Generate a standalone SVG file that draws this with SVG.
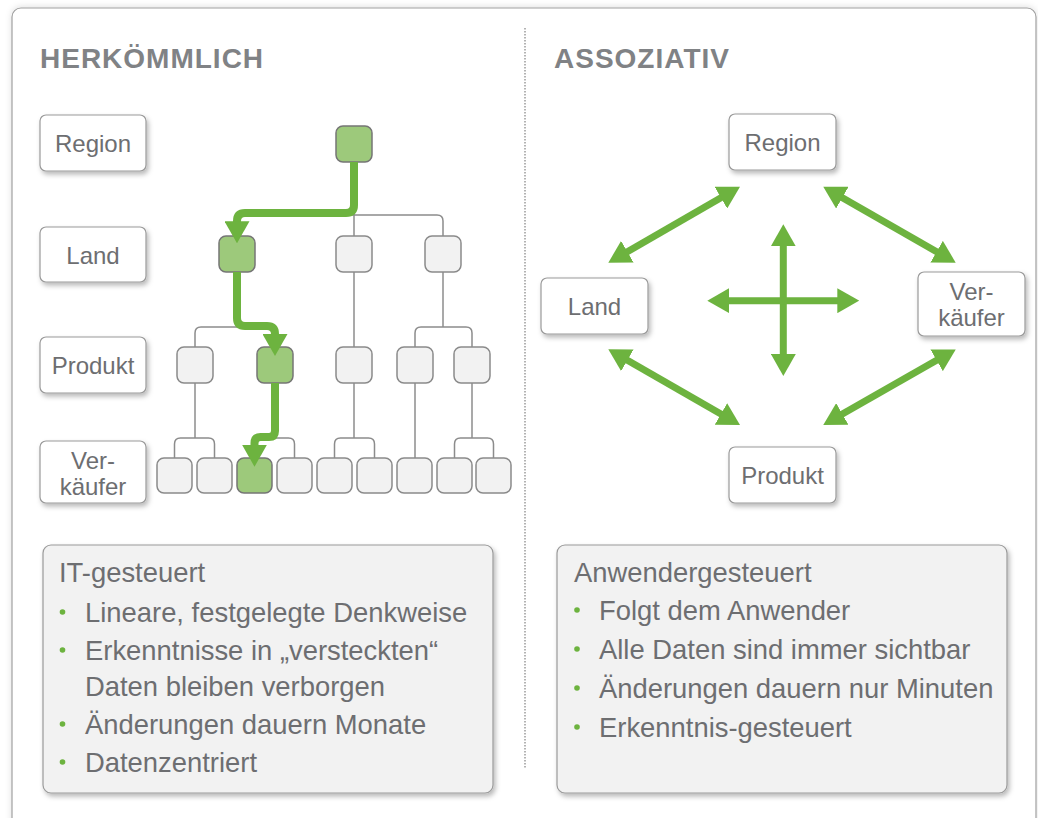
<svg xmlns="http://www.w3.org/2000/svg" width="1038" height="818" viewBox="0 0 1038 818">
<style>
.ttl{font-family:"Liberation Sans",Arial,sans-serif;font-weight:bold;font-size:28px;letter-spacing:1px;fill:#808285}
.lbl{font-family:"Liberation Sans",Arial,sans-serif;font-size:24px;fill:#6d6e71;text-anchor:middle}
.txt{font-family:"Liberation Sans",Arial,sans-serif;font-size:27.4px;fill:#6d6e71}
.box{fill:#ffffff;stroke:#9a9a9a;stroke-width:1.2}
.tn{fill:#f2f2f2;stroke:#8a8a8a;stroke-width:1.5}
.gn{fill:#9dc97b;stroke:#757575;stroke-width:1.5}
.tl{fill:none;stroke:#8c8c8c;stroke-width:1.5}
.gp{fill:none;stroke:#6db33f;stroke-width:8;stroke-linejoin:round}
.ga{fill:none;stroke:#6db33f;stroke-width:7}
.bul{fill:#6db33f}
.panel{fill:#f2f2f2;stroke:#9a9a9a;stroke-width:1.2}
</style>
<defs>
<filter id="sh" x="-20%" y="-20%" width="150%" height="160%">
<feDropShadow dx="2" dy="3" stdDeviation="2.5" flood-color="#000" flood-opacity="0.28"/>
</filter>
<filter id="fsh" x="-5%" y="-5%" width="110%" height="110%">
<feDropShadow dx="0" dy="-1" stdDeviation="3" flood-color="#000" flood-opacity="0.12"/>
</filter>
<marker id="ah" viewBox="0 0 22 25" refX="1" refY="12.5" markerWidth="22" markerHeight="25" markerUnits="userSpaceOnUse" orient="auto-start-reverse">
<path d="M0,0 L22,12.5 L0,25 z" fill="#6db33f"/>
</marker>
</defs>
<rect width="1038" height="818" fill="#ffffff"/>
<rect id="frame" x="12" y="8" width="1024" height="840" rx="9" fill="#ffffff" stroke="#a0a0a0" stroke-width="1.2" filter="url(#fsh)"/>
<line id="divider" x1="525" y1="28" x2="525" y2="769" stroke="#9a9a9a" stroke-width="1.5" stroke-dasharray="1.5,1.5"/>

<text class="ttl" x="40" y="68">HERKÖMMLICH</text>
<text class="ttl" x="554" y="68">ASSOZIATIV</text>

<!-- left level labels -->
<g id="lbl-region"><rect class="box" x="40" y="115" width="106" height="56" rx="6" filter="url(#sh)"/><text class="lbl" x="93" y="152">Region</text></g>
<g id="lbl-land"><rect class="box" x="40" y="227" width="106" height="55" rx="6" filter="url(#sh)"/><text class="lbl" x="93" y="264">Land</text></g>
<g id="lbl-produkt"><rect class="box" x="40" y="337" width="106" height="56" rx="6" filter="url(#sh)"/><text class="lbl" x="93" y="374">Produkt</text></g>
<g id="lbl-verkaeufer"><rect class="box" x="40" y="441" width="106" height="62" rx="6" filter="url(#sh)"/><text class="lbl" x="93" y="469">Ver-</text><text class="lbl" x="93" y="495">käufer</text></g>

<!-- tree connectors -->
<g id="tree-connectors">
<path class="tl" d="M354,162 V236"/>
<path class="tl" d="M237,236 V221 Q237,215 243,215 H437 Q443,215 443,221 V236"/>
<path class="tl" d="M237,272 V327"/>
<path class="tl" d="M195,347 V333 Q195,327 201,327 H269 Q275,327 275,333 V347"/>
<path class="tl" d="M354,272 V347"/>
<path class="tl" d="M443,272 V327"/>
<path class="tl" d="M415,347 V333 Q415,327 421,327 H466 Q472,327 472,333 V347"/>
<path class="tl" d="M195,383 V438"/>
<path class="tl" d="M174.5,458 V444 Q174.5,438 180.5,438 H208.5 Q214.5,438 214.5,444 V458"/>
<path class="tl" d="M275,383 V438"/>
<path class="tl" d="M254.5,458 V444 Q254.5,438 260.5,438 H288.5 Q294.5,438 294.5,444 V458"/>
<path class="tl" d="M354,383 V438"/>
<path class="tl" d="M334.5,458 V444 Q334.5,438 340.5,438 H368.5 Q374.5,438 374.5,444 V458"/>
<path class="tl" d="M415,383 V458"/>
<path class="tl" d="M472,383 V438"/>
<path class="tl" d="M454.5,458 V444 Q454.5,438 460.5,438 H487.5 Q493.5,438 493.5,444 V458"/>
</g>

<!-- tree nodes -->
<g id="tree-nodes">
<rect id="t-top" class="gn" x="336" y="126" width="36" height="36" rx="7"/>
<rect id="t-l1" class="gn" x="219" y="236" width="36" height="36" rx="7"/>
<rect id="t-l2" class="tn" x="336" y="236" width="36" height="36" rx="7"/>
<rect id="t-l3" class="tn" x="425" y="236" width="36" height="36" rx="7"/>
<rect id="t-p1" class="tn" x="177" y="347" width="36" height="36" rx="7"/>
<rect id="t-p2" class="gn" x="257" y="347" width="36" height="36" rx="7"/>
<rect id="t-p3" class="tn" x="336" y="347" width="36" height="36" rx="7"/>
<rect id="t-p4" class="tn" x="397" y="347" width="36" height="36" rx="7"/>
<rect id="t-p5" class="tn" x="454" y="347" width="36" height="36" rx="7"/>
<rect id="t-v1" class="tn" x="157" y="458" width="35" height="35" rx="7"/>
<rect id="t-v2" class="tn" x="197" y="458" width="35" height="35" rx="7"/>
<rect id="t-v3" class="gn" x="237" y="458" width="35" height="35" rx="7"/>
<rect id="t-v4" class="tn" x="277" y="458" width="35" height="35" rx="7"/>
<rect id="t-v5" class="tn" x="317" y="458" width="35" height="35" rx="7"/>
<rect id="t-v6" class="tn" x="357" y="458" width="35" height="35" rx="7"/>
<rect id="t-v7" class="tn" x="397" y="458" width="35" height="35" rx="7"/>
<rect id="t-v8" class="tn" x="437" y="458" width="35" height="35" rx="7"/>
<rect id="t-v9" class="tn" x="476" y="458" width="35" height="35" rx="7"/>
</g>

<!-- green drill path -->
<g id="drill-path">
<path class="gp" d="M354,162 V205 Q354,213 346,213 H245 Q237,213 237,221 V222.3" marker-end="url(#ah)"/>
<path class="gp" d="M237,272 V318 Q237,326 245,326 H267 Q275,326 275,334 V335" marker-end="url(#ah)"/>
<path class="gp" d="M275,383 V431 Q275,437 269,437 H260.5 Q254.5,437 254.5,443 V445.7" marker-end="url(#ah)"/>
</g>

<!-- associative nodes -->
<g id="a-region"><rect class="box" x="729" y="114" width="107" height="56" rx="6" filter="url(#sh)"/><text class="lbl" x="782.5" y="151">Region</text></g>
<g id="a-land"><rect class="box" x="541" y="278" width="107" height="56" rx="6" filter="url(#sh)"/><text class="lbl" x="594.5" y="315">Land</text></g>
<g id="a-verkaeufer"><rect class="box" x="918" y="272" width="107" height="64" rx="6" filter="url(#sh)"/><text class="lbl" x="971.5" y="300">Ver-</text><text class="lbl" x="971.5" y="326">käufer</text></g>
<g id="a-produkt"><rect class="box" x="729" y="447" width="107" height="56" rx="6" filter="url(#sh)"/><text class="lbl" x="782.5" y="484">Produkt</text></g>

<!-- associative connectors -->
<g id="a-connectors">
<line class="ga" x1="626.5" y1="252.2" x2="721.8" y2="197.2" marker-start="url(#ah)" marker-end="url(#ah)"/>
<line class="ga" x1="841.5" y1="197.2" x2="937.5" y2="252.2" marker-start="url(#ah)" marker-end="url(#ah)"/>
<line class="ga" x1="626.5" y1="359.8" x2="721.8" y2="414.5" marker-start="url(#ah)" marker-end="url(#ah)"/>
<line class="ga" x1="937.5" y1="359.8" x2="841.5" y2="414.5" marker-start="url(#ah)" marker-end="url(#ah)"/>
<line class="ga" x1="783.3" y1="245.3" x2="783.3" y2="355" marker-start="url(#ah)" marker-end="url(#ah)"/>
<line class="ga" x1="728.3" y1="300.7" x2="838.3" y2="300.7" marker-start="url(#ah)" marker-end="url(#ah)"/>
</g>

<!-- left panel -->
<g id="panel-left">
<rect class="panel" x="43" y="545" width="450" height="248" rx="8" filter="url(#sh)"/>
<text class="txt" x="59" y="582">IT-gesteuert</text>
<circle class="bul" cx="62.5" cy="612" r="2.8"/>
<text class="txt" x="85" y="622">Lineare, festgelegte Denkweise</text>
<circle class="bul" cx="62.5" cy="650" r="2.8"/>
<text class="txt" x="85" y="660">Erkenntnisse in „versteckten“</text>
<text class="txt" x="85" y="696">Daten bleiben verborgen</text>
<circle class="bul" cx="62.5" cy="724" r="2.8"/>
<text class="txt" x="85" y="734">Änderungen dauern Monate</text>
<circle class="bul" cx="62.5" cy="762" r="2.8"/>
<text class="txt" x="85" y="772">Datenzentriert</text>
</g>

<!-- right panel -->
<g id="panel-right">
<rect class="panel" x="557" y="545" width="450" height="248" rx="8" filter="url(#sh)"/>
<text class="txt" x="574" y="582">Anwendergesteuert</text>
<circle class="bul" cx="577" cy="610" r="2.8"/>
<text class="txt" x="599" y="620">Folgt dem Anwender</text>
<circle class="bul" cx="577" cy="649" r="2.8"/>
<text class="txt" x="599" y="659">Alle Daten sind immer sichtbar</text>
<circle class="bul" cx="577" cy="688" r="2.8"/>
<text class="txt" x="599" y="698">Änderungen dauern nur Minuten</text>
<circle class="bul" cx="577" cy="727" r="2.8"/>
<text class="txt" x="599" y="737">Erkenntnis-gesteuert</text>
</g>
</svg>
